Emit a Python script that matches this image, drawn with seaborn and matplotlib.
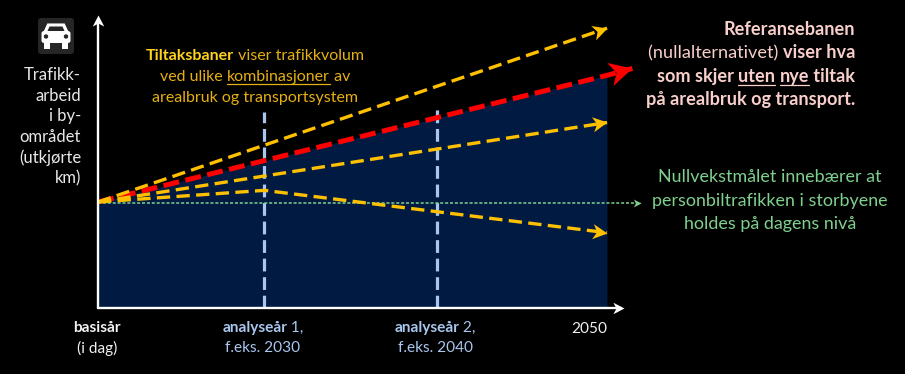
import numpy as np
import pandas as pd
import matplotlib
matplotlib.use('Agg')
import matplotlib.pyplot as plt
from matplotlib.markers import MarkerStyle
from matplotlib.patches import FancyBboxPatch, Rectangle, Circle, Polygon
from matplotlib.path import Path
from matplotlib.transforms import Affine2D
import seaborn as sns

# x = year, y = traffic index (basisaar = 100)
years_top = [2020, 2050]
top_path = [100, 264]
years_ref = [2020, 2050, 2051.5]
ref_path = [100, 219.5, 226]
years_mid = [2020, 2050]
mid_path = [100, 175]
years_low = [2020, 2029.8, 2050]
low_path = [100, 111, 71]
years_zero = [2020, 2052]
zero_path = [99.5, 99.5]
area_years = [2020, 2050]
area_top = [100, 219.5]
analysis_years = [2029.8, 2040]
analysis_tops = [185, 189]

YELLOW = '#ffc000'
RED = '#ff0000'
GREEN = '#7fd08f'
PINK = '#f8cfcb'
BLUE = '#a9c6ee'
NAVY = '#001a42'
GOLD = '#e6b010'
W, H = 905, 374
FONT = 'Lato'

sns.set_theme(style='white')
plt.rcParams['font.family'] = [FONT, 'DejaVu Sans']

fig = plt.figure(figsize=(W / 100, H / 100), dpi=100, facecolor='black')
ax = fig.add_axes([0, 0, 1, 1])
ax.set_facecolor('black')
px_yr = (607 - 98) / 30
px_idx = (308 - 202) / 100
ax.set_xlim(2020 - 98 / px_yr, 2020 + (W - 98) / px_yr)
ax.set_ylim(-(H - 308) / px_idx, 308 / px_idx)
ax.axis('off')

ax.fill_between(area_years, 0, area_top, color=NAVY, lw=0, zorder=1)

# notched arrow head, tip at the origin and pointing right
HEAD = Path([(0, 0), (-1, 0.52), (-0.72, 0), (-1, -0.52), (0, 0)],
            [Path.MOVETO, Path.LINETO, Path.LINETO, Path.LINETO, Path.CLOSEPOLY])


def head(x, y, angle, color, size, z):
    m = MarkerStyle(HEAD, transform=Affine2D().rotate_deg(angle))
    ax.plot([x], [y], marker=m, ms=size, color=color, mew=0, ls='none', zorder=z, clip_on=False)


def draw_path(xs, ys, color, lw, dash, size, z):
    sns.lineplot(x=xs, y=ys, color=color, lw=lw, linestyle=(0, dash), ax=ax,
                 estimator=None, sort=False, zorder=z)
    ax.lines[-1].set_dash_capstyle('butt')
    angle = np.degrees(np.arctan2((ys[-1] - ys[-2]) * px_idx, (xs[-1] - xs[-2]) * px_yr))
    head(xs[-1], ys[-1], angle, color, size, z + 1)


# vertical markers
for yr, top in zip(analysis_years, analysis_tops):
    sns.lineplot(x=[yr, yr], y=[0, top], color=BLUE, lw=2.3, linestyle=(0, (4, 1.8)),
                 ax=ax, estimator=None, sort=False, zorder=2)

sns.lineplot(x=years_zero, y=zero_path, color=GREEN, lw=1.1, linestyle=(0, (2, 1.2)),
             ax=ax, estimator=None, sort=False, zorder=3)
head(years_zero[-1], zero_path[-1], 0, GREEN, 11, 3)

draw_path(years_ref, ref_path, RED, 3.6, (3.2, 1.3), 33, 4)
draw_path(years_top, top_path, YELLOW, 2.4, (4, 1.9), 21, 5)
draw_path(years_mid, mid_path, YELLOW, 2.4, (4, 1.9), 21, 5)
draw_path(years_low, low_path, YELLOW, 2.4, (4, 1.9), 21, 5)

# axes arrows
sns.lineplot(x=[2020, 2020], y=[0, 270], color='white', lw=1.7, ax=ax, estimator=None, sort=False, zorder=6)
sns.lineplot(x=[2020, 2050.8], y=[0, 0], color='white', lw=1.7, ax=ax, estimator=None, sort=False, zorder=6)
head(2020, 276, 90, 'white', 16, 6)
head(2051, 0, 0, 'white', 16, 6)

renderer = fig.canvas.get_renderer()


def to_fig(px, py):
    return px / W, 1 - py / H


def width_of(text, size, weight):
    a = fig.text(0, 0, 'H' + text + 'H', fontsize=size, fontweight=weight)
    b = fig.text(0, 0, 'HH', fontsize=size, fontweight=weight)
    wd = a.get_window_extent(renderer).width - b.get_window_extent(renderer).width
    a.remove()
    b.remove()
    return wd


def rich_line(runs, px, py, align, size, color):
    # runs: (text, bold, underlined, optional colour); py is the baseline in pixels
    parts = []
    for run in runs:
        text, bold, under = run[:3]
        weight = 'bold' if bold else 'normal'
        t = fig.text(0, 0, text, fontsize=size, color=run[3] if len(run) > 3 else color,
                     va='baseline', ha='left', fontweight=weight)
        parts.append((t, width_of(text, size, weight), under))
    total = sum(p[1] for p in parts)
    x = px - total if align == 'right' else px - total / 2 if align == 'center' else px
    for t, wd, under in parts:
        t.set_position(to_fig(x, py))
        if under:
            ink = t.get_window_extent(renderer).width
            fig.add_artist(plt.Line2D([x / W, (x + ink) / W], [1 - (py + 2.5) / H] * 2,
                                      color=t.get_color(), lw=0.9))
        x += wd


def block(lines, px, first_base, step, align, size, color):
    for i, runs in enumerate(lines):
        if isinstance(runs, str):
            runs = [(runs, False, False)]
        rich_line(runs, px, first_base + i * step, align, size, color)


block(['Trafikk-', 'arbeid', 'i by-', 'området', '(utkjørte', 'km)'],
      81, 80, 20.7, 'right', 12, '#e8e8e8')

block([[('Tiltaksbaner', True, False, '#ffd21f'), (' viser trafikkvolum', False, False)],
       [('ved ulike ', False, False), ('kombinasjoner', False, True), (' av', False, False)],
       'arealbruk og transportsystem'],
      255, 60, 21, 'center', 11.5, GOLD)

block([[('Referansebanen', True, False)],
       [('(nullalternativet) ', False, False), ('viser hva', True, False)],
       [('som skjer ', True, False), ('uten', True, True), (' ', True, False), ('nye', True, True), (' tiltak', True, False)],
       [('på arealbruk og transport.', True, False)]],
      855, 35, 23.5, 'right', 13.1, PINK)

block(['Nullvekstmålet innebærer at', 'personbiltrafikken i storbyene', 'holdes på dagens nivå'],
      770, 182, 23.7, 'center', 12.9, GREEN)

block([[('basisår', True, False)], '(i dag)'], 97, 332, 20.5, 'center', 11.1, '#f0f0f0')
block([[('analyseår', True, False), (' 1,', False, False)], 'f.eks. 2030'],
      263, 332, 20.5, 'center', 11.1, BLUE)
block([[('analyseår', True, False), (' 2,', False, False)], 'f.eks. 2040'],
      435, 332, 20.5, 'center', 11.1, BLUE)
block(['2050'], 589, 333, 20, 'center', 11.1, '#f0f0f0')

# car icon
icon = fig.add_axes([37 / W, 1 - 55 / H, 38 / W, 38 / H])
icon.set_xlim(0, 38)
icon.set_ylim(38, 0)
icon.axis('off')
icon.add_patch(FancyBboxPatch((1, 1), 36, 36, boxstyle='round,pad=0,rounding_size=3', fc='#262626', ec='none'))
icon.add_patch(Polygon([(8, 14), (11, 7.5), (27, 7.5), (30, 14)], fc='white', ec='white', lw=1.5))
icon.add_patch(Polygon([(10.5, 14), (12.5, 9.5), (25.5, 9.5), (27.5, 14)], fc='#262626', ec='none'))
icon.add_patch(FancyBboxPatch((4.5, 14), 29, 12, boxstyle='round,pad=0,rounding_size=2.5', fc='white', ec='none'))
icon.add_patch(Rectangle((7, 25), 6, 6.5, fc='white', ec='none'))
icon.add_patch(Rectangle((25, 25), 6, 6.5, fc='white', ec='none'))
icon.add_patch(Circle((9, 19.5), 2.2, fc='#262626', ec='none'))
icon.add_patch(Circle((29, 19.5), 2.2, fc='#262626', ec='none'))

fig.savefig('out.png', dpi=100, facecolor='black')
